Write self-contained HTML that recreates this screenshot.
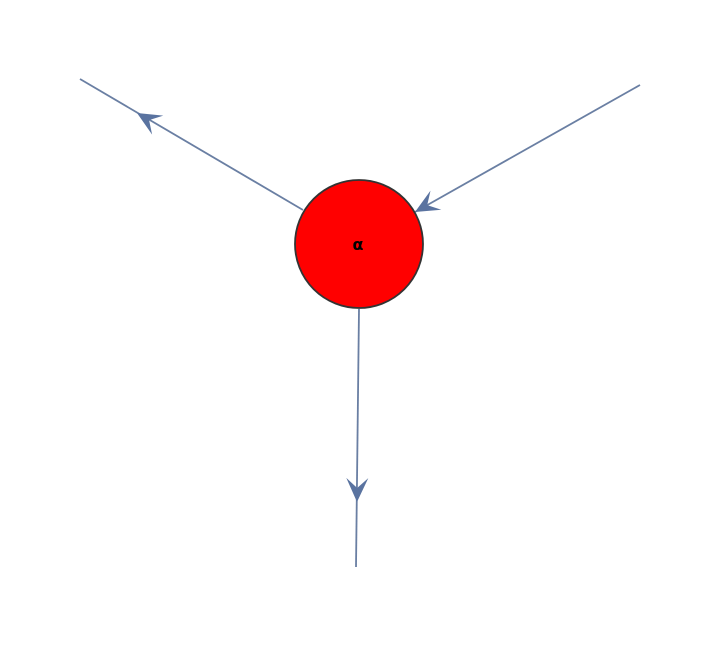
<!DOCTYPE html>
<html><head><meta charset="utf-8"><style>html,body{margin:0;padding:0;background:#fff}</style></head>
<body>
<svg width="720" height="646" xmlns="http://www.w3.org/2000/svg">
<g stroke="#6a7fa3" stroke-width="1.8" fill="none">
<line x1="80" y1="79" x2="303" y2="210"/>
<line x1="640" y1="85" x2="415" y2="212"/>
<line x1="359" y1="309" x2="356" y2="567"/>
</g>
<g fill="#5a73a0">
<polygon points="0,0 -24,-11 -14,0 -24,11" transform="translate(137,113) rotate(210.4)"/>
<polygon points="0,0 -24,-11 -14,0 -24,11" transform="translate(415,212) rotate(150.6)"/>
<polygon points="0,0 -24,-11 -14,0 -24,11" transform="translate(357,502) rotate(90.7)"/>
</g>
<circle cx="359" cy="244" r="64" fill="#ff0000" stroke="#333" stroke-width="1.8"/>
<text x="358" y="250" font-family="DejaVu Sans, sans-serif" font-size="16" font-weight="bold" text-anchor="middle" fill="#000">α</text>
</svg>
</body></html>
